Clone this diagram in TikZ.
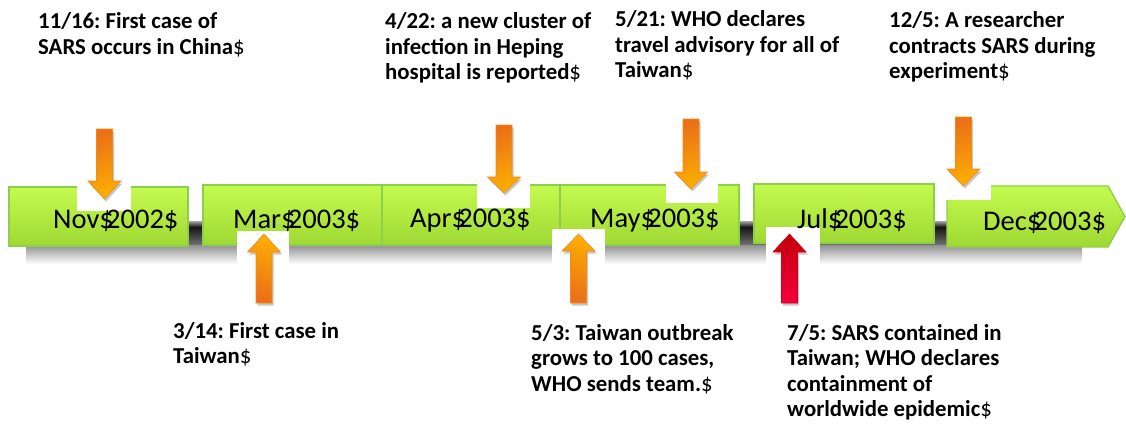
\documentclass[tikz,border=0pt]{standalone}
\usepackage{fontspec}
\setmainfont{Carlito}
\usetikzlibrary{shadows}
\frenchspacing
\definecolor{gtop}{HTML}{C3FB4F}
\definecolor{gbot}{HTML}{A0D834}
\definecolor{gline}{HTML}{8DCF4B}
\definecolor{olight}{HTML}{FBAE04}
\definecolor{odark}{HTML}{EB7016}
\definecolor{oline}{HTML}{F28A1C}
\definecolor{rlight}{HTML}{F5003C}
\definecolor{rdark}{HTML}{C2000A}
\definecolor{rline}{HTML}{D0001A}
\newcommand{\evarrow}[5]{\path[#5] (#1-8,#2) -- (#1+8,#2) -- (#1+8,#3) -- (#1+16.5,#3) -- (#1,#4) -- (#1-16.5,#3) -- (#1-8,#3) -- cycle;}
\newcommand{\evlines}[1]{\vtop{\halign{##\hfil\cr#1\crcr}}}
\begin{document}
\begin{tikzpicture}[x=1pt,y=-1pt,
  monthbox/.style={draw=gline, line width=1.4pt, top color=gtop, bottom color=gbot, inner sep=0pt},
  monthlabel/.style={anchor=base west, inner sep=0pt, font=\fontsize{28.5}{30}\selectfont},
  eventtext/.style={anchor=base west, inner sep=0pt, font=\fontsize{22.8}{25.5}\selectfont\bfseries},
  darrow/.style={draw=oline, line width=0.6pt, left color=odark, right color=olight, shading angle=20,
     drop shadow={shadow xshift=1.5pt, shadow yshift=-2.5pt, opacity=0.22, fill=black}},
  uarrow/.style={draw=oline, line width=0.6pt, left color=odark, right color=olight, shading angle=160,
     drop shadow={shadow xshift=1.5pt, shadow yshift=-2.5pt, opacity=0.22, fill=black}},
  rarrow/.style={draw=rline, line width=0.6pt, top color=rdark, bottom color=rlight,
     drop shadow={shadow xshift=1.5pt, shadow yshift=-2.5pt, opacity=0.22, fill=black}},
  gap/.style={fill=white}
]
\useasboundingbox (0,0) rectangle (1126,428);
\fill[white] (0,0) rectangle (1126,428);

% shadow bar
\shade[top color=black!35, bottom color=black!92] (26,221) rectangle (1082,227);
\shade[top color=black!92, bottom color=black!55] (26,227) rectangle (1082,245.5);
\shade[top color=black!42, bottom color=white] (26,245.5) rectangle (1082,264);

% month boxes
\node[monthbox, minimum width=179pt, minimum height=59pt] (nov) at (98.5,216.5) {};
\node[monthbox, minimum width=179pt, minimum height=60pt] (mar) at (292.5,215) {};
\node[monthbox, minimum width=178pt, minimum height=60pt] (apr) at (471,215) {};
\node[monthbox, minimum width=179pt, minimum height=60pt] (may) at (649.5,215) {};
\node[monthbox, minimum width=180pt, minimum height=59pt] (jul) at (844,213.5) {};
\path[monthbox] (947,186) -- (1108,186) -- (1125,216.5) -- (1108,247) -- (947,247) -- cycle;
\coordinate (dec) at (1036,216.5);

% white backgrounds of arrows
\fill[gap] (77,186) rectangle (131,211);
\fill[gap] (477,184) rectangle (530,208);
\fill[gap] (666,184) rectangle (718,203);
\fill[gap] (937,180) rectangle (991,200);
\fill[gap] (237,231) rectangle (289,264);
\fill[gap] (552,229) rectangle (605,264);
\fill[gap] (766,227) rectangle (820,264);

% month labels
\node[monthlabel] (novl) at (53,228) {Nov\$\kern-0.27em 2002\$};
\node[monthlabel] (marl) at (233,228) {Mar\$\kern-0.27em 2003\$};
\node[monthlabel] (aprl) at (410,227) {Apr\$\kern-0.27em 2003\$};
\node[monthlabel] (mayl) at (590,227) {May\$\kern-0.27em 2003\$};
\node[monthlabel] (jull) at (797,228) {Jul\$\kern-0.27em 2003\$};
\node[monthlabel] (decl) at (983,230) {Dec\$\kern-0.27em 2003\$};

% arrows
\evarrow{104.5}{129}{181}{199}{darrow}
\evarrow{504}{125}{177}{193}{darrow}
\evarrow{691}{119}{172}{189}{darrow}
\evarrow{963.5}{117}{169}{186}{darrow}
\evarrow{264}{303}{252}{234}{uarrow}
\evarrow{578.5}{303}{251}{234}{uarrow}
\evarrow{789.5}{303}{252}{234}{rarrow}

% event texts
\node[eventtext] (e1) at (38,29) {\evlines{11/16: First case of\cr SARS occurs in China{\mdseries\$}}};
\node[eventtext] (e2) at (385,29) {\evlines{4/22: a new cluster of\cr infection in Heping\cr hospital is reported{\mdseries\$}}};
\node[eventtext] (e3) at (615,27) {\evlines{5/21: WHO declares\cr travel advisory for all of\cr Taiwan{\mdseries\$}}};
\node[eventtext] (e4) at (889,28) {\evlines{12/5: A researcher\cr contracts SARS during\cr experiment{\mdseries\$}}};
\node[eventtext] (e5) at (173,338) {\evlines{3/14: First case in\cr Taiwan{\mdseries\$}}};
\node[eventtext] (e6) at (531,340) {\evlines{5/3: Taiwan outbreak\cr grows to 100 cases,\cr WHO sends team.{\mdseries\$}}};
\node[eventtext] (e7) at (787,340) {\evlines{7/5: SARS contained in\cr Taiwan; WHO declares\cr containment of\cr worldwide epidemic{\mdseries\$}}};
\end{tikzpicture}
\end{document}
